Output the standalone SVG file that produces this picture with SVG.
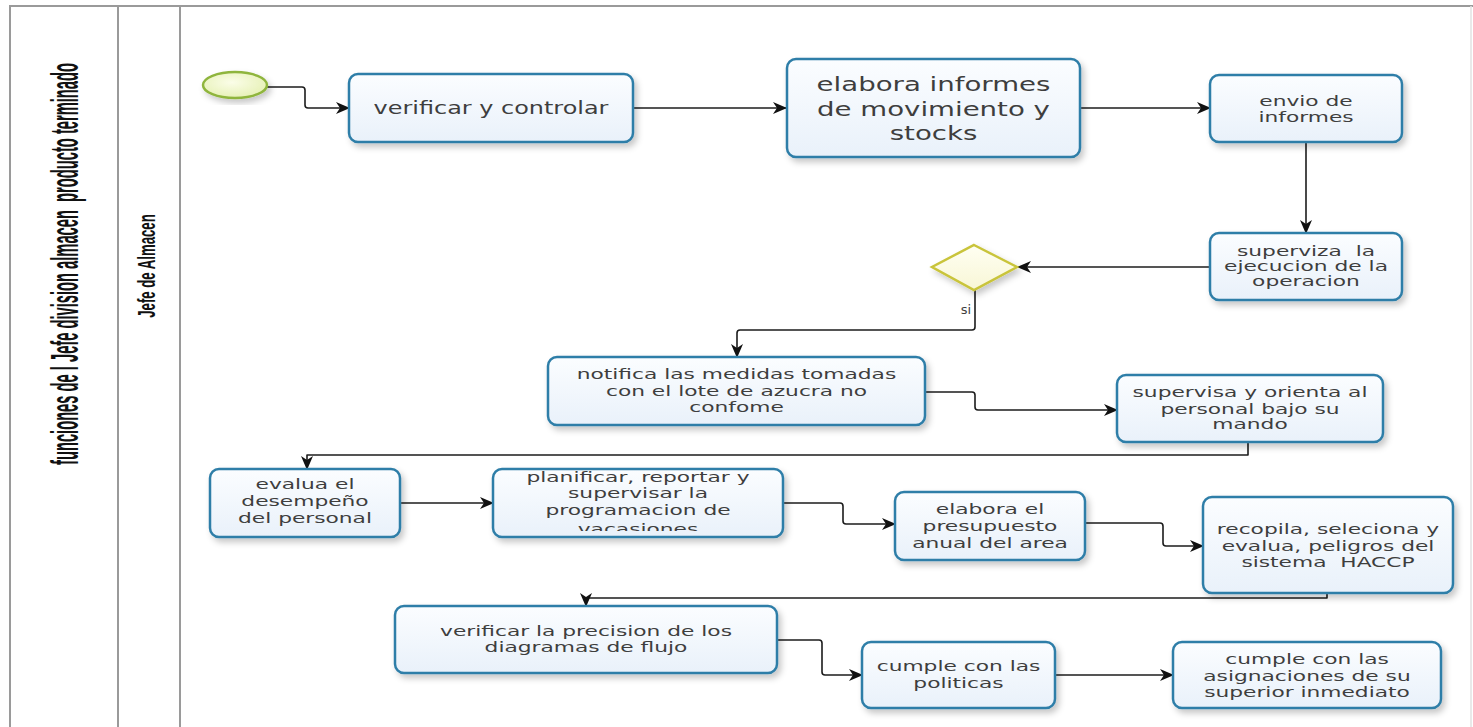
<svg xmlns="http://www.w3.org/2000/svg" width="1473" height="727" viewBox="0 0 1473 727">
  <defs>
    <linearGradient id="taskFill" x1="0" y1="0" x2="0" y2="1">
      <stop offset="0" stop-color="#fbfdff"/>
      <stop offset="1" stop-color="#e9f1fa"/>
    </linearGradient>
    <radialGradient id="startFill" cx="0.45" cy="0.4" r="0.7">
      <stop offset="0" stop-color="#fbfde8"/>
      <stop offset="1" stop-color="#e3efae"/>
    </radialGradient>
    <linearGradient id="gateFill" x1="0" y1="0" x2="0" y2="1">
      <stop offset="0" stop-color="#fffff2"/>
      <stop offset="1" stop-color="#f8f6d6"/>
    </linearGradient>
    <filter id="shadow" x="-10%" y="-15%" width="125%" height="140%">
      <feDropShadow dx="3" dy="4" stdDeviation="3" flood-color="#000" flood-opacity="0.22"/>
    </filter>
    <marker id="arrow" markerWidth="14" markerHeight="12" refX="13" refY="6" orient="auto" markerUnits="userSpaceOnUse">
      <path d="M0,0 L14,6 L0,12 L4,6 z" fill="#111"/>
    </marker>
    <clipPath id="clipPlan" clipPathUnits="userSpaceOnUse">
      <rect x="493" y="470" width="290" height="61"/>
    </clipPath>
  </defs>
  <style>
    .lane { fill: none; stroke: #9a9a9a; stroke-width: 2; }
    .task { fill: url(#taskFill); stroke: #2f7ea8; stroke-width: 2.5; filter: url(#shadow); }
    .flow { fill: none; stroke: #1c1c1c; stroke-width: 1.6; stroke-linejoin: round; marker-end: url(#arrow); }
    .t { font-family: "DejaVu Sans", Verdana, sans-serif; fill: #3e3e3e; text-anchor: middle; }
    .s { font-size: 14.5px; }
    .b { font-size: 20px; }
    .m { font-size: 18px; }
    .pool { font-family: "Liberation Sans", Arial, sans-serif; font-weight: bold; fill: #111; text-anchor: middle; }
  </style>

  <rect width="1473" height="727" fill="#ffffff"/>

  <!-- pool and lane frame; the vertical labels use a narrow horizontal scale -->
  <g id="pool">
    <path class="lane" d="M10,727 V6 H1473"/>
    <path class="lane" d="M118,6 V727"/>
    <path class="lane" d="M180,6 V727"/>
    <path d="M1471,6 V727" fill="none" stroke="#e2e2e2" stroke-width="1.5"/>
    <text class="pool" font-size="39" transform="translate(78,264) rotate(-90) scale(0.377,1)">funciones de l Jefe division almacen&#160; producto terminado</text>
    <text class="pool" font-size="23" transform="translate(155,266) rotate(-90) scale(0.573,1)">Jefe de Almacen</text>
  </g>

  <!-- sequence flows -->
  <g id="connectors">
    <path class="flow" d="M267,87 H302 Q305,87 305,90 V105 Q305,108 308,108 H349"/>
    <path class="flow" d="M633,108 H786"/>
    <path class="flow" d="M1080,108 H1210"/>
    <path class="flow" d="M1306,142 V233"/>
    <path class="flow" d="M1210,267 H1018"/>
    <path class="flow" d="M975,290 V327 Q975,330 972,330 H740 Q737,330 737,333 V357"/>
    <path class="flow" d="M925,392 H972 Q975,392 975,395 V407 Q975,410 978,410 H1117"/>
    <path class="flow" d="M1248,442 V455 H307 V469"/>
    <path class="flow" d="M400,503 H493"/>
    <path class="flow" d="M783,503 H840 Q843,503 843,506 V521 Q843,524 846,524 H895"/>
    <path class="flow" d="M1085,523 H1160 Q1163,523 1163,526 V543 Q1163,546 1166,546 H1203"/>
    <path class="flow" d="M1327,593 V598 H586 V606"/>
    <path class="flow" d="M777,640 H819 Q822,640 822,643 V672 Q822,675 825,675 H862"/>
    <path class="flow" d="M1055,675 H1173"/>
    <text class="t" font-size="13" x="966" y="314">si</text>
  </g>

  <g id="start">
    <ellipse cx="235" cy="85" rx="32" ry="13" fill="url(#startFill)" stroke="#8fb53c" stroke-width="2.5" filter="url(#shadow)"/>
  </g>

  <g id="task-verificar">
    <rect class="task" x="349" y="74" width="284" height="68" rx="9"/>
    <text class="t m" transform="translate(491,0) scale(1.33,1)"><tspan x="0" y="114">verificar y controlar</tspan></text>
  </g>

  <g id="task-elabora-informes">
    <rect class="task" x="787" y="59" width="293" height="98" rx="9"/>
    <text class="t b" transform="translate(933.5,0) scale(1.38,1)"><tspan x="0" y="91">elabora informes</tspan><tspan x="0" y="116">de movimiento y</tspan><tspan x="0" y="140">stocks</tspan></text>
  </g>

  <g id="task-envio">
    <rect class="task" x="1210" y="75" width="192" height="67" rx="9"/>
    <text class="t s" transform="translate(1306,0) scale(1.5,1)"><tspan x="0" y="106">envio de</tspan><tspan x="0" y="122">informes</tspan></text>
  </g>

  <g id="task-superviza">
    <rect class="task" x="1210" y="233" width="192" height="67" rx="9"/>
    <text class="t s" transform="translate(1306,0) scale(1.5,1)"><tspan x="0" y="256">superviza&#160; la</tspan><tspan x="0" y="271">ejecucion de la</tspan><tspan x="0" y="286">operacion</tspan></text>
  </g>

  <g id="gateway">
    <polygon points="974,245 1017,267 974,290 932,267" fill="url(#gateFill)" stroke="#c9c43a" stroke-width="2.5" filter="url(#shadow)"/>
  </g>

  <g id="task-notifica">
    <rect class="task" x="548" y="357" width="377" height="68" rx="9"/>
    <text class="t s" transform="translate(736.5,0) scale(1.5,1)"><tspan x="0" y="379">notifica las medidas tomadas</tspan><tspan x="0" y="396">con el lote de azucra no</tspan><tspan x="0" y="412">confome</tspan></text>
  </g>

  <g id="task-supervisa">
    <rect class="task" x="1117" y="375" width="266" height="67" rx="9"/>
    <text class="t s" transform="translate(1250,0) scale(1.5,1)"><tspan x="0" y="397">supervisa y orienta al</tspan><tspan x="0" y="414">personal bajo su</tspan><tspan x="0" y="429">mando</tspan></text>
  </g>

  <g id="task-evalua">
    <rect class="task" x="210" y="469" width="190" height="68" rx="9"/>
    <text class="t s" transform="translate(305,0) scale(1.5,1)"><tspan x="0" y="489">evalua el</tspan><tspan x="0" y="506">desempeño</tspan><tspan x="0" y="523">del personal</tspan></text>
  </g>

  <g id="task-planificar">
    <rect class="task" x="493" y="469" width="290" height="68" rx="9"/>
    <g clip-path="url(#clipPlan)">
      <text class="t s" transform="translate(638,0) scale(1.5,1)"><tspan x="0" y="482">planificar, reportar y</tspan><tspan x="0" y="498">supervisar la</tspan><tspan x="0" y="515">programacion de</tspan><tspan x="0" y="534">vacasiones</tspan></text>
    </g>
  </g>

  <g id="task-presupuesto">
    <rect class="task" x="895" y="492" width="190" height="68" rx="9"/>
    <text class="t s" transform="translate(990,0) scale(1.5,1)"><tspan x="0" y="514">elabora el</tspan><tspan x="0" y="531">presupuesto</tspan><tspan x="0" y="548">anual del area</tspan></text>
  </g>

  <g id="task-haccp">
    <rect class="task" x="1203" y="497" width="250" height="96" rx="9"/>
    <text class="t s" transform="translate(1328,0) scale(1.5,1)"><tspan x="0" y="534">recopila, seleciona y</tspan><tspan x="0" y="551">evalua, peligros del</tspan><tspan x="0" y="567">sistema&#160; HACCP</tspan></text>
  </g>

  <g id="task-diagramas">
    <rect class="task" x="395" y="606" width="382" height="67" rx="9"/>
    <text class="t s" transform="translate(586,0) scale(1.5,1)"><tspan x="0" y="636">verificar la precision de los</tspan><tspan x="0" y="652">diagramas de flujo</tspan></text>
  </g>

  <g id="task-politicas">
    <rect class="task" x="862" y="642" width="193" height="66" rx="9"/>
    <text class="t s" transform="translate(958.5,0) scale(1.5,1)"><tspan x="0" y="671">cumple con las</tspan><tspan x="0" y="688">politicas</tspan></text>
  </g>

  <g id="task-asignaciones">
    <rect class="task" x="1173" y="642" width="268" height="66" rx="9"/>
    <text class="t s" transform="translate(1307,0) scale(1.5,1)"><tspan x="0" y="664">cumple con las</tspan><tspan x="0" y="681">asignaciones de su</tspan><tspan x="0" y="697">superior inmediato</tspan></text>
  </g>
</svg>
